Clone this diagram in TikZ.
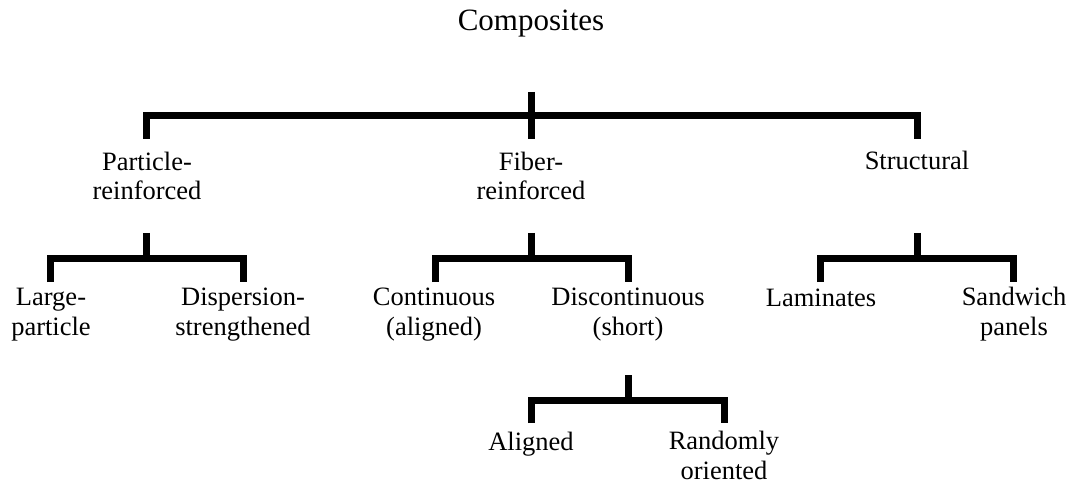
\documentclass[tikz,border=0pt]{standalone}
\usepackage{fontspec}
\setmainfont{Liberation Serif}
\begin{document}
\begin{tikzpicture}[x=1pt,y=-1pt,
  lbl/.style={inner sep=0pt,align=center,anchor=base,font=\fontsize{26.5}{29.5}\selectfont},
  conn/.style={line width=7pt,line join=miter,line cap=butt}]
\useasboundingbox (0,0) rectangle (1075,486);
% texts (anchor = baseline of the last line)
\node[lbl,font=\fontsize{31}{34}\selectfont] (comp) at (531,31) {Composites};
\node[lbl] (pr) at (147,200) {Particle-\\reinforced};
\node[lbl] (fr) at (531,200) {Fiber-\\reinforced};
\node[lbl] (st) at (917,170) {Structural};
\node[lbl] (lp) at (51,335) {Large-\\particle};
\node[lbl] (ds) at (243,335) {Dispersion-\\strengthened};
\node[lbl] (co) at (434,335) {Continuous\\(aligned)};
\node[lbl] (dc) at (628,335) {Discontinuous\\(short)};
\node[lbl] (la) at (821,306) {Laminates};
\node[lbl] (sw) at (1014,335) {Sandwich\\panels};
\node[lbl] (al) at (531,450) {Aligned};
\node[lbl] (ro) at (724,479) {Randomly\\oriented};
% junction coordinates
\coordinate (comp-out) at (531,92);
\coordinate (j0) at (531,115.5);
\coordinate (pr-in) at (146,139);
\coordinate (fr-in) at (531,139);
\coordinate (st-in) at (917,139);
\coordinate (pr-out) at (146,233);
\coordinate (j1) at (146,258.5);
\coordinate (lp-in) at (50,282);
\coordinate (ds-in) at (243,282);
\coordinate (fr-out) at (531,233);
\coordinate (j2) at (531,258.5);
\coordinate (co-in) at (435,282);
\coordinate (dc-in) at (628,282);
\coordinate (st-out) at (917,233);
\coordinate (j3) at (917,258.5);
\coordinate (la-in) at (820,282);
\coordinate (sw-in) at (1013,282);
\coordinate (dc-out) at (628,375);
\coordinate (j4) at (628,400);
\coordinate (al-in) at (531,423);
\coordinate (ro-in) at (724,423);
% connectors
\draw[conn] (comp-out) -- (fr-in);
\draw[conn] (pr-in) |- (j0) -| (st-in);
\draw[conn] (pr-out) -- (j1);
\draw[conn] (lp-in) |- (j1) -| (ds-in);
\draw[conn] (fr-out) -- (j2);
\draw[conn] (co-in) |- (j2) -| (dc-in);
\draw[conn] (st-out) -- (j3);
\draw[conn] (la-in) |- (j3) -| (sw-in);
\draw[conn] (dc-out) -- (j4);
\draw[conn] (al-in) |- (j4) -| (ro-in);
\end{tikzpicture}
\end{document}
